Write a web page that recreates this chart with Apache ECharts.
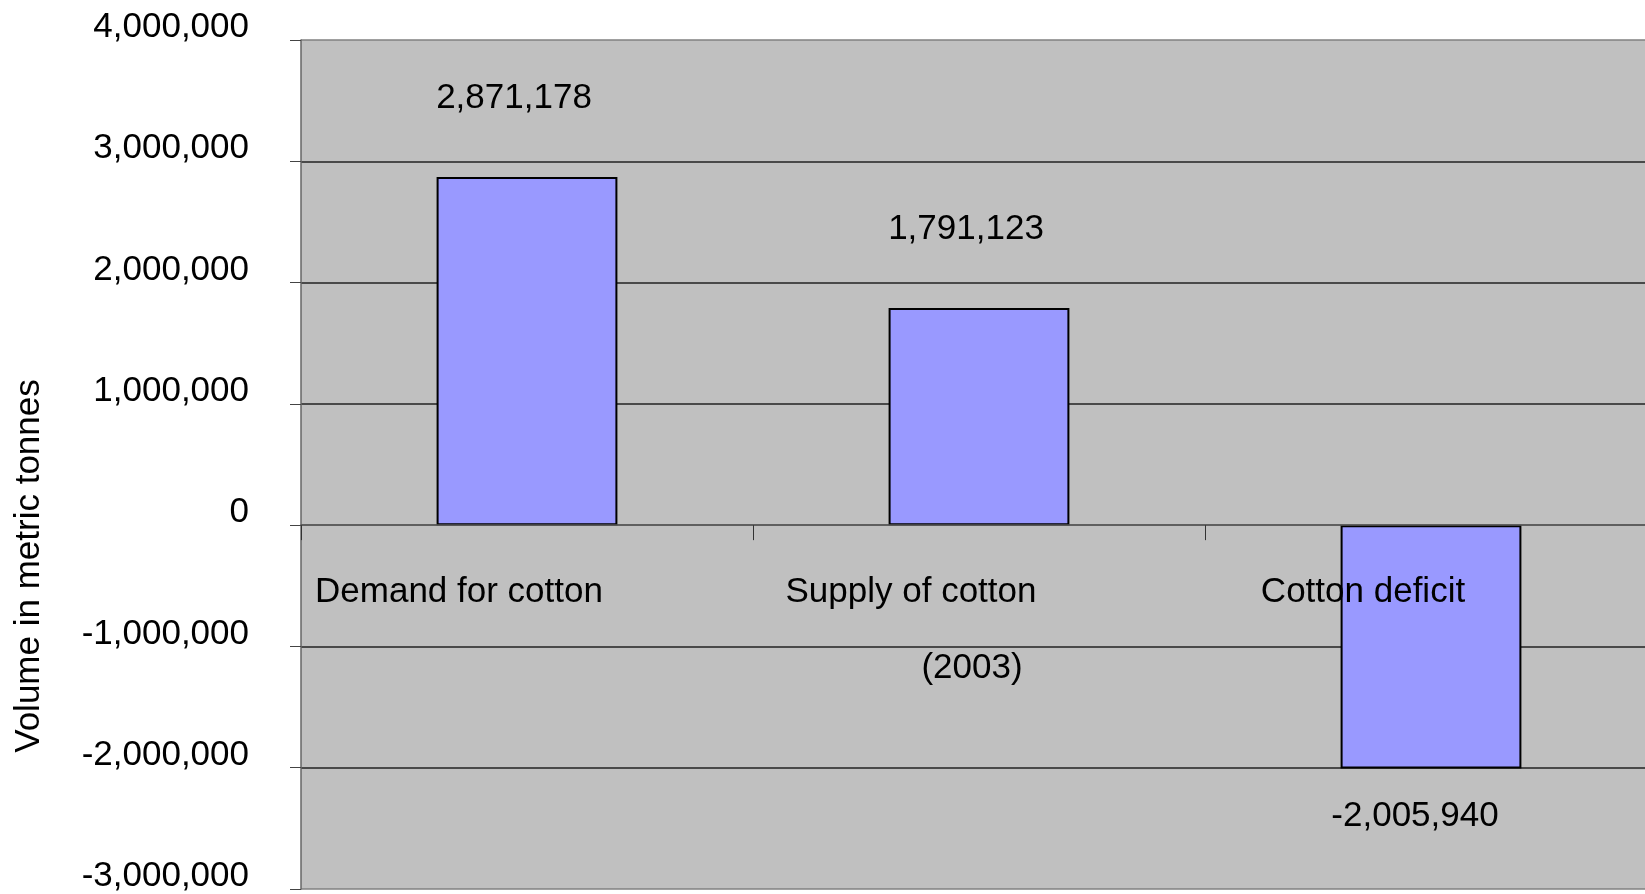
<!DOCTYPE html>
<html>
<head>
<meta charset="utf-8">
<script src="https://cdn.jsdelivr.net/npm/echarts@6/dist/echarts.min.js"></script>
<style>
html,body{margin:0;padding:0;background:#fff;}
#chart{width:1645px;height:894px;}
</style>
</head>
<body>
<div id="chart"></div>
<script>
const categories = ['Demand for cotton', 'Supply of cotton', 'Cotton deficit'];
const values = [2871178, 1791123, -2005940];
const yMin = -3000000, yMax = 4000000, yStep = 1000000;
const xName = '(2003)';
const yName = 'Volume in metric tonnes';

const FONT = "'Liberation Sans', Arial, sans-serif";
const FS = 35;
const fmt = v => Number(v).toLocaleString('en-US');

const W = 1645, H = 894;
const G = { left: 301, top: 40, right: -12, bottom: 5 };
const plotH = H - G.top - G.bottom;
const zeroOffset = -plotH * (0 - yMin) / (yMax - yMin);

const chart = echarts.init(document.getElementById('chart'));
chart.setOption({
  animation: false,
  backgroundColor: '#ffffff',
  textStyle: { fontFamily: FONT },
  grid: {
    left: G.left, top: G.top, right: G.right, bottom: G.bottom,
    outerBoundsMode: 'none',
    containLabel: false,
    show: true, backgroundColor: '#C0C0C0', borderWidth: 0
  },
  graphic: [{
    type: 'text',
    x: 29, y: 566,
    rotation: Math.PI / 2,
    z: 10,
    style: {
      text: yName, fontSize: FS, fontFamily: FONT, fill: '#000',
      align: 'center', verticalAlign: 'middle'
    }
  }],
  xAxis: {
    type: 'category',
    data: categories,
    z: 5,
    position: 'bottom',
    offset: zeroOffset,
    name: xName,
    nameLocation: 'middle',
    nameGap: 126,
    nameTextStyle: { fontSize: FS, color: '#000', fontFamily: FONT, padding: [0, 14, 0, 0] },
    axisLine: { onZero: false, lineStyle: { color: '#555', width: 1.5 } },
    axisTick: { show: true, length: 15, lineStyle: { color: '#333', width: 1 } },
    axisLabel: { fontSize: FS, color: '#000', fontFamily: FONT, margin: 50, padding: [0, 136, 0, 0] },
    splitLine: { show: false }
  },
  yAxis: {
    type: 'value',
    min: yMin, max: yMax, interval: yStep,
    axisLine: { show: true, lineStyle: { color: '#666', width: 1.5 } },
    axisTick: { show: true, length: 11, lineStyle: { color: '#444', width: 1 } },
    axisLabel: {
      fontSize: FS, color: '#000', fontFamily: FONT, margin: 52,
      verticalAlign: 'bottom', lineHeight: 25,
      formatter: v => fmt(v)
    },
    splitLine: {
      show: true,
      lineStyle: {
        color: ['#808080', '#222', '#222', '#666', '#222', '#222', '#222', '#808080'],
        width: 1.5
      }
    }
  },
  series: [{
    type: 'bar',
    barWidth: '40%',
    itemStyle: { color: '#9999FF', borderColor: '#000', borderWidth: 2 },
    data: values.map(v => ({
      value: v,
      label: {
        show: true,
        position: v >= 0 ? 'top' : 'bottom',
        distance: v >= 0 ? 61 : 30,
        offset: [v >= 0 ? -13 : -16, 0],
        fontSize: FS, color: '#000', fontFamily: FONT,
        formatter: p => fmt(p.value)
      }
    }))
  }]
});
</script>
</body>
</html>
